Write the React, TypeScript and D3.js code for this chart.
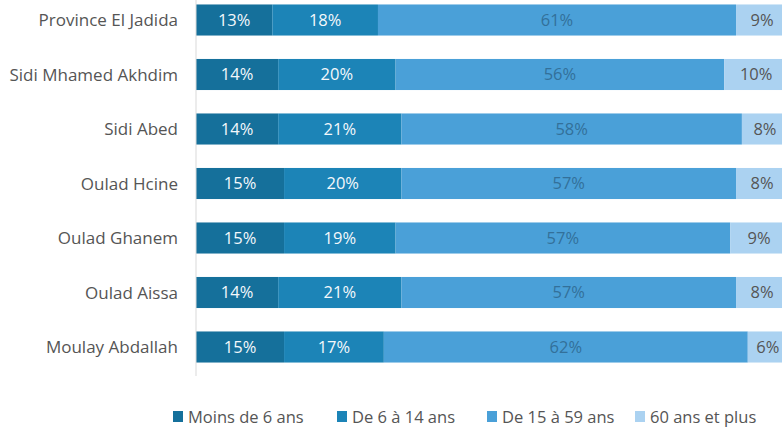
import React from "react";
import * as d3 from "d3";

const categories = [
  "Province El Jadida",
  "Sidi Mhamed Akhdim",
  "Sidi Abed",
  "Oulad Hcine",
  "Oulad Ghanem",
  "Oulad Aissa",
  "Moulay Abdallah",
];
const seriesNames = ["Moins de 6 ans", "De 6 à 14 ans", "De 15 à 59 ans", "60 ans et plus"];
const moins6 = [13, 14, 14, 15, 15, 14, 15];
const de6a14 = [18, 20, 21, 20, 19, 21, 17];
const de15a59 = [61, 56, 58, 57, 57, 57, 62];
const plus60 = [9, 10, 8, 8, 9, 8, 6];

const colors = ["#15709b", "#1c84b7", "#4aa0d8", "#abd2f1"];
const labelColors = ["#f4f8fb", "#f4f8fb", "#33709a", "#555555"];
const FONT = "'Open Sans', Lato, sans-serif";

export default function App() {
  const W = 782;
  const H = 430;
  const x = d3.scaleLinear().domain([0, 100]).range([196, 783]);
  const y = d3
    .scaleBand<string>()
    .domain(categories)
    .range([-7.25, 374.25])
    .paddingInner(0.43)
    .paddingOuter(0.215);

  const series = [moins6, de6a14, de15a59, plus60];
  const rows = categories.map((c, i) => {
    let acc = 0;
    return series.map((s, k) => {
      const seg = { cat: c, k, v: s[i], x0: acc, x1: acc + s[i] };
      acc += s[i];
      return seg;
    });
  });

  const legendX = [173, 337, 487, 635];

  return (
    <svg
      width={W}
      height={H}
      style={{ position: "absolute", left: 0, top: 0, background: "#fff" }}
      fontFamily={FONT}
    >
      {rows.map((segs, i) => (
        <g key={categories[i]}>
          {segs.map((s) => (
            <rect
              key={s.k}
              x={x(s.x0)}
              y={y(s.cat)}
              width={x(s.x1) - x(s.x0)}
              height={y.bandwidth()}
              fill={colors[s.k]}
            />
          ))}
          {segs.map((s) => (
            <text
              key={"t" + s.k}
              x={(x(s.x0) + Math.min(x(s.x1), 782)) / 2 + (s.k === 3 ? 3 : 0)}
              y={(y(s.cat) as number) + y.bandwidth() / 2}
              dy="0.36em"
              textAnchor="middle"
              fontSize={16.5}
              fill={labelColors[s.k]}
            >
              {s.v}%
            </text>
          ))}
          <text
            x={178}
            y={(y(categories[i]) as number) + y.bandwidth() / 2}
            dy="0.36em"
            textAnchor="end"
            fontSize={17}
            fill="#555555"
          >
            {categories[i]}
          </text>
        </g>
      ))}
      <line x1={196} x2={196} y1={0} y2={376} stroke="#d9d9d9" strokeWidth={1} />
      {seriesNames.map((n, k) => (
        <g key={n} transform={`translate(${legendX[k]},0)`}>
          <rect x={0} y={411} width={10} height={11} fill={colors[k]} />
          <text x={15} y={417} dy="0.36em" fontSize={16.5} fill="#555555">
            {n}
          </text>
        </g>
      ))}
    </svg>
  );
}
